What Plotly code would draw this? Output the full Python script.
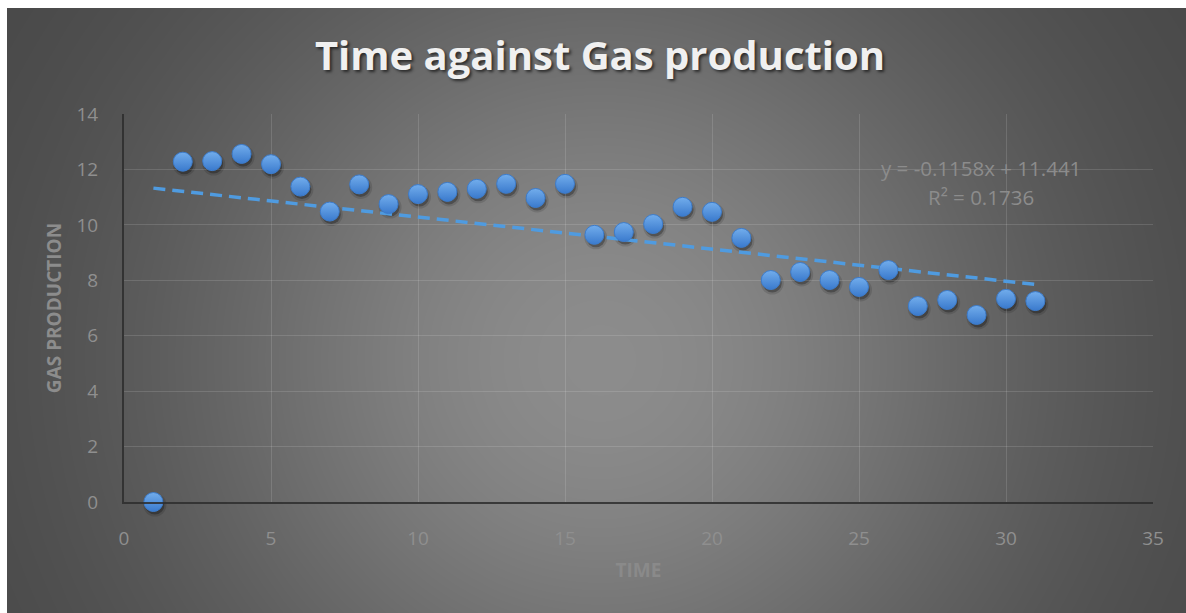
import numpy as np
import plotly.graph_objects as go

# Measurements: time step vs. gas production
time = [1, 2, 3, 4, 5, 6, 7, 8, 9, 10, 11, 12, 13, 14, 15, 16,
        17, 18, 19, 20, 21, 22, 23, 24, 25, 26, 27, 28, 29, 30, 31]
gas = [0.0, 12.28, 12.30, 12.56, 12.19, 11.38, 10.48, 11.46, 10.75, 11.11,
       11.19, 11.30, 11.48, 10.97, 11.48, 9.64, 9.74, 10.03, 10.65, 10.47,
       9.53, 8.01, 8.30, 8.01, 7.76, 8.37, 7.07, 7.29, 6.75, 7.33, 7.25]

# Linear trendline as reported on the chart
trend_slope = -0.1158
trend_intercept = 11.441
r_squared = 0.1736

x_ticks = [0, 5, 10, 15, 20, 25, 30, 35]
y_ticks = [0, 2, 4, 6, 8, 10, 12, 14]

W, H = 1186, 613
FONT = "Open Sans"

# Plot-area placement in pixels
left, right, top, bottom = 124, 1153, 114, 502
dom_x = [left / W, right / W]
dom_y = [1 - bottom / H, 1 - top / H]
# drop shadow offset for the markers
sdx, sdy = 1.5, 3.0
shadow_x = [(left + sdx) / W, (right + sdx) / W]
shadow_y = [1 - (bottom + sdy) / H, 1 - (top + sdy) / H]

# Radial grey backdrop
bx = np.linspace(7, W, 120)
by = np.linspace(8, H, 62)
BX, BY = np.meshgrid(bx, by)
bz = 68 + 72 * np.exp(-(((BX - 600) / 433) ** 2 + ((BY - 360) / 422) ** 2))

fig = go.Figure()

fig.add_trace(go.Heatmap(
    x=bx, y=by, z=bz, zmin=0, zmax=255, zsmooth="best",
    colorscale=[[0, "rgb(0,0,0)"], [1, "rgb(255,255,255)"]],
    showscale=False, hoverinfo="skip", xaxis="x", yaxis="y",
))

# soft shadows beneath the markers
fig.add_trace(go.Scatter(
    x=time, y=gas, mode="markers", xaxis="x2", yaxis="y2", cliponaxis=False,
    marker=dict(size=23, color="rgba(0,0,0,0.12)", line=dict(width=0)),
    hoverinfo="skip", showlegend=False,
))
fig.add_trace(go.Scatter(
    x=time, y=gas, mode="markers", xaxis="x2", yaxis="y2", cliponaxis=False,
    marker=dict(size=19, color="rgba(0,0,0,0.28)", line=dict(width=0)),
    hoverinfo="skip", showlegend=False,
))

trend_x = [time[0], time[-1]]
trend_y = [trend_slope * t + trend_intercept for t in trend_x]
fig.add_trace(go.Scatter(
    x=trend_x, y=trend_y, mode="lines", xaxis="x3", yaxis="y3",
    line=dict(color="#4f9be0", width=3.5, dash="12px,7px"),
    hoverinfo="skip", showlegend=False,
))

fig.add_trace(go.Scatter(
    x=time, y=gas, mode="markers", xaxis="x3", yaxis="y3", cliponaxis=False,
    marker=dict(size=19, color="#72adec",
                gradient=dict(type="vertical", color="#3a7acd"),
                line=dict(width=1, color="#3d7ccb")),
    showlegend=False, name="Gas production",
))

axis_common = dict(
    showgrid=True, gridcolor="rgba(255,255,255,0.13)", gridwidth=1,
    zeroline=False, showline=True, linecolor="rgba(45,45,45,0.85)", linewidth=2,
    ticks="", tickfont=dict(family=FONT, size=19, color="#8f8f8f"),
    fixedrange=True, automargin=False,
)
hidden = dict(visible=False, fixedrange=True, showgrid=False, zeroline=False,
              automargin=False)

fig.update_layout(
    width=W, height=H,
    margin=dict(l=0, r=0, t=0, b=0, pad=0, autoexpand=False),
    paper_bgcolor="white", plot_bgcolor="rgba(0,0,0,0)",
    showlegend=False,
    xaxis=dict(domain=[7 / W, 1], range=[7, W], **hidden),
    yaxis=dict(domain=[0, 1 - 8 / H], range=[H, 8], **hidden),
    xaxis2=dict(domain=shadow_x, range=[0, 35], anchor="y2", **hidden),
    yaxis2=dict(domain=shadow_y, range=[0, 14], anchor="x2", **hidden),
    xaxis3=dict(domain=dom_x, range=[0, 35], tickvals=x_ticks, anchor="y3",
                ticklabelstandoff=18,
                title=dict(text="TIME", standoff=14,
                           font=dict(family=FONT, size=19, color="#8a8a8a", weight="bold")),
                **axis_common),
    yaxis3=dict(domain=dom_y, range=[0, 14], tickvals=y_ticks, anchor="x3",
                ticklabelstandoff=20,
                title=dict(text="GAS PRODUCTION", standoff=10,
                           font=dict(family=FONT, size=19, color="#8c8c8c", weight="bold")),
                **axis_common),
    title=dict(
        text="Time against Gas production",
        x=600 / W, y=1 - 56 / H, xref="paper", yref="paper",
        xanchor="center", yanchor="middle",
        font=dict(family=FONT, size=40, color="#f0f0f0", weight="bold",
                  shadow="2px 2px 3px rgba(0,0,0,0.6)"),
    ),
    annotations=[
        dict(text=f"y = {trend_slope}x + {trend_intercept}", x=981 / W, y=1 - 168 / H,
             xref="paper", yref="paper", xanchor="center", yanchor="middle",
             showarrow=False, font=dict(family=FONT, size=20.5, color="#8c8c8c")),
        dict(text=f"R² = {r_squared}", x=981 / W, y=1 - 197 / H,
             xref="paper", yref="paper", xanchor="center", yanchor="middle",
             showarrow=False, font=dict(family=FONT, size=20.5, color="#8c8c8c")),
    ],
)

fig.write_html("out.html")
